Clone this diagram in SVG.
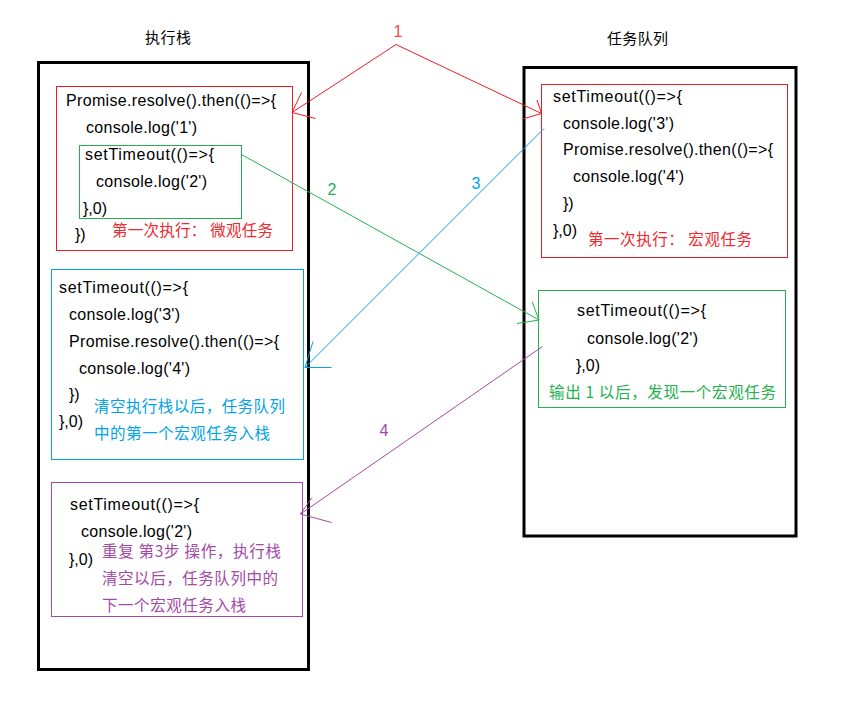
<svg xmlns="http://www.w3.org/2000/svg" width="849" height="717" viewBox="0 0 849 717">
<style>
.code{font-family:"Liberation Sans","Noto Sans CJK SC",sans-serif;font-size:16px;fill:#000}
.cjk{font-family:"Noto Sans CJK SC","Noto Sans",sans-serif;font-size:15.5px}
.title{font-family:"Noto Sans CJK SC",sans-serif;font-size:15px;fill:#000}
.num{font-family:"Liberation Sans",sans-serif;font-size:16px;text-anchor:middle}
.frame{fill:none;stroke:#000;stroke-width:3}
.box{fill:none;stroke-width:1}
.ln{fill:none;stroke-width:1}
</style>
<rect width="849" height="717" fill="#fff"/>
<g id="stack">
<rect class="frame" x="38.5" y="62.5" width="270" height="607"/>
<text class="title" x="145" y="43" textLength="46">执行栈</text>
</g>
<g id="queue">
<rect class="frame" x="524" y="67.5" width="272" height="468.5"/>
<text class="title" x="607" y="44" textLength="61">任务队列</text>
</g>
<g id="stack-box1">
<rect class="box" x="56.5" y="86.5" width="236" height="164" stroke="#ed1c24"/>
<text class="code" x="66" y="106" textLength="210">Promise.resolve().then(()=&gt;{</text>
<text class="code" x="86" y="133" textLength="111">console.log('1')</text>
<text class="code" x="75" y="240">})</text>
<text class="cjk" x="112" y="236" fill="#f0282e" textLength="161">第一次执行： 微观任务</text>
</g>
<g id="stack-box1-inner">
<rect class="box" x="79.5" y="145.5" width="162" height="73" stroke="#22b14c"/>
<text class="code" x="85" y="160" textLength="129">setTimeout(()=&gt;{</text>
<text class="code" x="96" y="187" textLength="111">console.log('2')</text>
<text class="code" x="83" y="214" textLength="24">},0)</text>
</g>
<g id="queue-box1">
<rect class="box" x="541.5" y="84.5" width="246" height="173" stroke="#ed1c24"/>
<text class="code" x="553" y="102" textLength="129">setTimeout(()=&gt;{</text>
<text class="code" x="563" y="128.5" textLength="111">console.log('3')</text>
<text class="code" x="563" y="155" textLength="210">Promise.resolve().then(()=&gt;{</text>
<text class="code" x="573" y="182" textLength="111">console.log('4')</text>
<text class="code" x="563" y="209">})</text>
<text class="code" x="553" y="236" textLength="24">},0)</text>
<text class="cjk" x="588" y="245" fill="#f0282e" textLength="164">第一次执行： 宏观任务</text>
</g>
<g id="stack-box2">
<rect class="box" x="51.5" y="269.5" width="252" height="190" stroke="#00a2e8"/>
<text class="code" x="59" y="292.5" textLength="129">setTimeout(()=&gt;{</text>
<text class="code" x="69" y="320" textLength="111">console.log('3')</text>
<text class="code" x="69" y="347" textLength="210">Promise.resolve().then(()=&gt;{</text>
<text class="code" x="79" y="373.5" textLength="111">console.log('4')</text>
<text class="code" x="69" y="400">})</text>
<text class="code" x="59" y="427" textLength="24">},0)</text>
<text class="cjk" x="94" y="412" fill="#00a2e8" textLength="191">清空执行栈以后，任务队列</text>
<text class="cjk" x="94" y="438.5" fill="#00a2e8" textLength="176">中的第一个宏观任务入栈</text>
</g>
<g id="queue-box2">
<rect class="box" x="538.5" y="290.5" width="247" height="117" stroke="#22b14c"/>
<text class="code" x="577" y="316" textLength="129">setTimeout(()=&gt;{</text>
<text class="code" x="587" y="343.5" textLength="111">console.log('2')</text>
<text class="code" x="576" y="371" textLength="24">},0)</text>
<text class="cjk" x="549" y="397.5" fill="#22b14c" textLength="227">输出 1 以后，发现一个宏观任务</text>
</g>
<g id="stack-box3">
<rect class="box" x="51.5" y="482.5" width="251" height="134" stroke="#a349a4"/>
<text class="code" x="70" y="510" textLength="129">setTimeout(()=&gt;{</text>
<text class="code" x="81" y="537" textLength="111">console.log('2')</text>
<text class="code" x="69" y="565" textLength="24">},0)</text>
<text class="cjk" x="102" y="557" fill="#a349a4" textLength="179">重复 第3步 操作，执行栈</text>
<text class="cjk" x="102" y="584" fill="#a349a4" textLength="176">清空以后，任务队列中的</text>
<text class="cjk" x="102" y="610.5" fill="#a349a4" textLength="144">下一个宏观任务入栈</text>
</g>
<g id="connectors">
<g stroke="#ed1c24" class="ln">
<polyline class="ln" points="292,112.5 396,44.5 541.5,113.5"/>
<polyline class="ln" points="301.5,92.5 292,112.5 315.5,118.5"/>
<polyline class="ln" points="537,100 541.5,113.5 522.5,119"/>
</g>
<text class="num" x="398" y="37" fill="#f05040">1</text>
<g stroke="#22b14c" class="ln">
<line x1="241.5" y1="154.5" x2="539" y2="320"/>
<polyline class="ln" points="532,301.5 539,320 517,323.5"/>
</g>
<text class="num" x="332" y="195" fill="#22b14c">2</text>
<g stroke="#00a2e8" class="ln">
<line x1="544" y1="128.5" x2="305" y2="367.5"/>
<polyline class="ln" points="313,341.5 305,367.5 331.5,367.5"/>
</g>
<text class="num" x="476" y="189" fill="#00a2e8">3</text>
<g stroke="#a349a4" class="ln">
<line x1="542.5" y1="346.5" x2="300.5" y2="514"/>
<polyline class="ln" points="312,497.5 300.5,514 331.5,522.5"/>
</g>
<text class="num" x="384" y="436" fill="#a349a4">4</text>
</g>
</svg>
